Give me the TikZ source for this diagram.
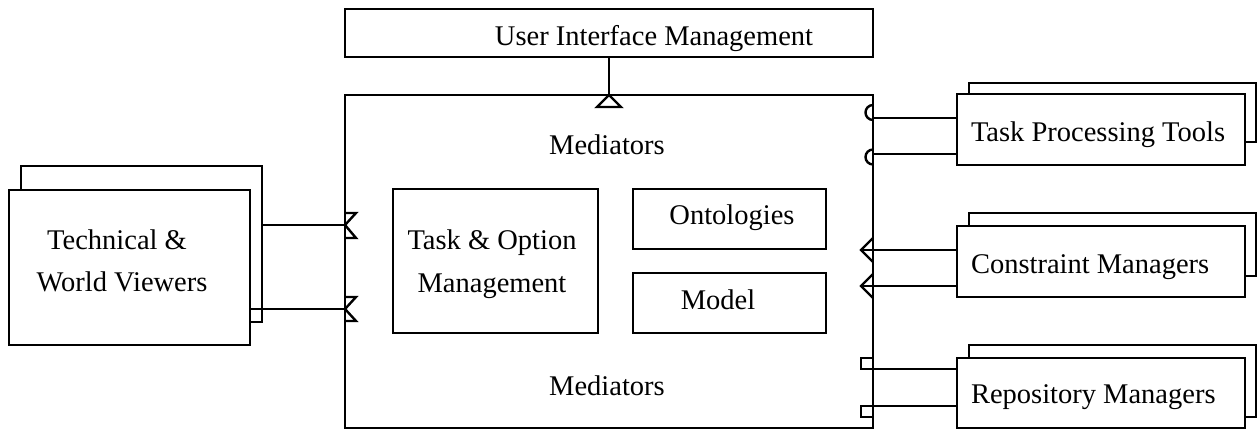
\documentclass[tikz,border=0pt]{standalone}
\usepackage{fontspec}
\setmainfont{Liberation Serif}
\begin{document}
\begin{tikzpicture}[x=1pt,y=-1pt,
  box/.style={draw=black, fill=white, line width=2.4pt, rectangle, inner sep=0pt, outer sep=0pt, anchor=north west},
  lbl/.style={inner sep=0pt, outer sep=0pt, font=\fontsize{28.5}{34}\selectfont},
  wire/.style={draw=black, line width=2.4pt},
  sym/.style={draw=black, line width=2.4pt, fill=white, line join=miter}]
\useasboundingbox (0,0) rectangle (1258,430);
% boxes
\node[box, minimum width=528pt, minimum height=48pt] (ui) at (345,9) {};
\node[box, minimum width=528pt, minimum height=333pt] (main) at (345,95) {};
\node[box, minimum width=205pt, minimum height=144pt] (tom) at (393,189) {};
\node[box, minimum width=193pt, minimum height=60pt] (ont) at (633,189) {};
\node[box, minimum width=193pt, minimum height=60pt] (mod) at (633,273) {};
\node[box, minimum width=241pt, minimum height=156pt] (twvB) at (21,166) {};
\node[box, minimum width=241pt, minimum height=155pt] (twv) at (9,190) {};
\node[box, minimum width=287pt, minimum height=59pt] (tptB) at (969,83) {};
\node[box, minimum width=288pt, minimum height=71pt] (tpt) at (957,94) {};
\node[box, minimum width=287pt, minimum height=63pt] (cmB) at (969,213) {};
\node[box, minimum width=288pt, minimum height=71pt] (cm) at (957,226) {};
\node[box, minimum width=287pt, minimum height=72pt] (rmB) at (969,345) {};
\node[box, minimum width=288pt, minimum height=70pt] (rm) at (957,358) {};
% labels
\node[lbl, anchor=base] (tui) at (654,46) {User Interface Management};
\node[lbl, anchor=base] (tmed1) at (607,155) {Mediators};
\node[lbl, anchor=base] (tmed2) at (607,395) {Mediators};
\node[lbl, anchor=base] (ttom1) at (492,250) {Task \& Option};
\node[lbl, anchor=base] (ttom2) at (492,293) {Management};
\node[lbl, anchor=base] (tont) at (732,225) {Ontologies};
\node[lbl, anchor=base] (tmod) at (718,309) {Model};
\node[lbl, anchor=base] (ttwv1) at (117,250) {Technical \&};
\node[lbl, anchor=base] (ttwv2) at (122,292) {World Viewers};
\node[lbl, anchor=base west] (ttpt) at (971,142) {Task Processing Tools};
\node[lbl, anchor=base west] (tcm) at (971,274) {Constraint Managers};
\node[lbl, anchor=base west] (trm) at (971,403) {Repository Managers};
% top connector
\coordinate (uiC) at (609,95);
\draw[wire] (ui.south -| uiC) -- (uiC);
\draw[sym] (uiC) -- (621,107) -- (597,107) -- cycle;
% left connectors
\coordinate (L1) at (345,225);
\coordinate (L2) at (345,309);
\draw[wire] (L1 -| twvB.east) -- (L1);
\draw[wire] (L2 -| twv.east) -- (L2);
\draw[wire, line join=miter] (345,213) -- (356,213) -- (L1) -- (356,238) -- (345,238);
\draw[wire, line join=miter] (345,297) -- (356,297) -- (L2) -- (356,321) -- (345,321);
% task processing tools connectors (sockets)
\coordinate (R1) at (873,118);
\coordinate (R2) at (873,154);
\draw[wire] (R1) -- (R1 -| tpt.west);
\draw[wire] (R2) -- (R2 -| tpt.west);
\draw[wire] (873,120) arc[start angle=90, end angle=270, radius=7.5];
\draw[wire] (873,164.5) arc[start angle=90, end angle=270, radius=7.5];
% constraint managers connectors (triangles)
\coordinate (R3) at (861,250);
\coordinate (R4) at (861,286);
\draw[wire] (R3) -- (R3 -| cm.west);
\draw[wire] (R4) -- (R4 -| cm.west);
\draw[wire, line join=miter] (873,238) -- (R3) -- (873,262);
\draw[wire, line join=miter] (873,274) -- (R4) -- (873,298);
% repository managers connectors (squares)
\coordinate (R5) at (873,369);
\coordinate (R6) at (873,406);
\draw[wire] (R5) -- (R5 -| rm.west);
\draw[wire] (R6) -- (R6 -| rm.west);
\draw[wire] (873,358) -- (861,358) -- (861,369) -- (873,369);
\draw[wire] (873,406) -- (861,406) -- (861,417) -- (873,417);
\end{tikzpicture}
\end{document}
